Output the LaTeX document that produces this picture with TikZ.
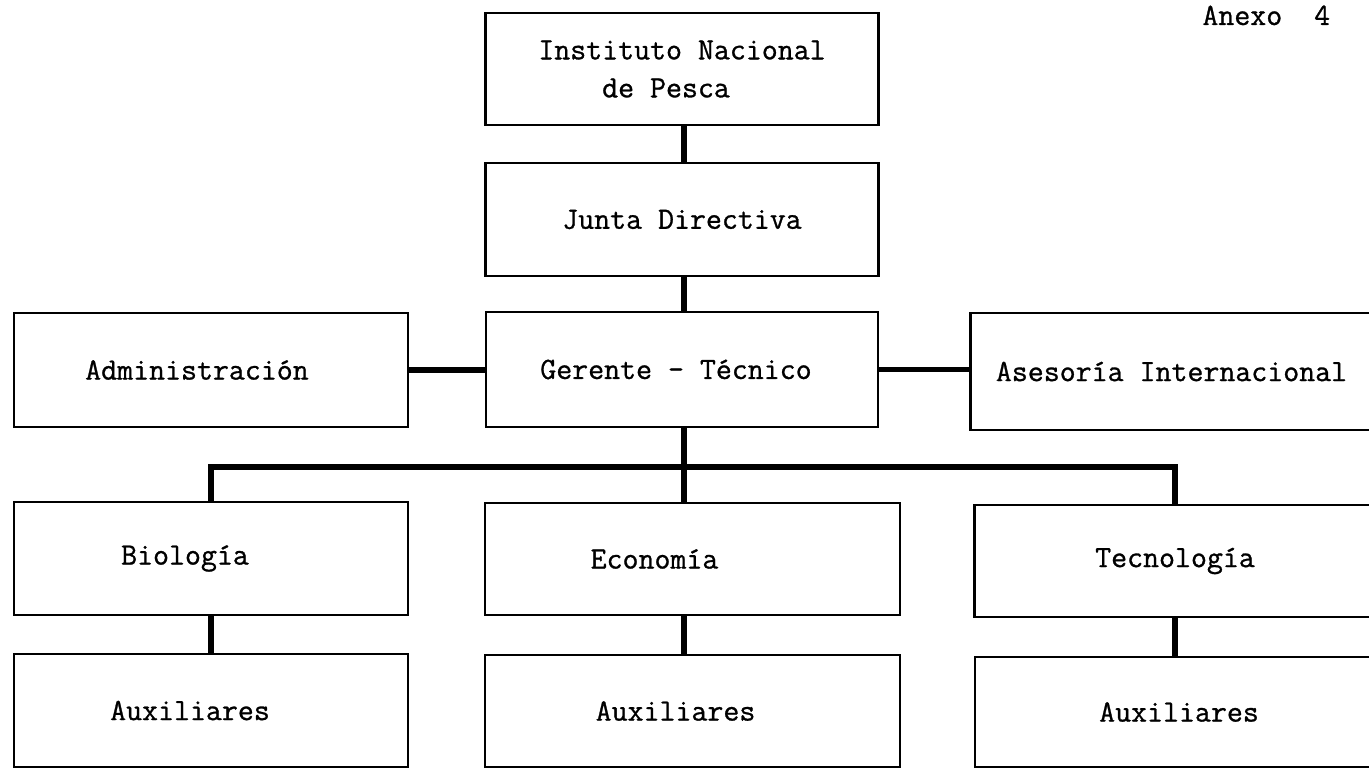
\documentclass[tikz,border=0pt]{standalone}
\usepackage{fontspec}
\newfontfamily\orgtt{Latin Modern Mono}[FakeBold=0.9]
\usetikzlibrary{calc}
\newcommand{\shtext}[2]{\makebox[0pt]{\hspace*{#1}#2\hspace*{-#1}}}
\tikzset{
  orgfont/.style={font=\fontsize{15.5}{19}\selectfont\orgtt},
  orgbox/.style n args={2}{draw, line width=1.4pt, inner sep=0pt, orgfont,
    align=center, minimum width={#1*0.5pt}, minimum height={#2*0.5pt}},
  conn/.style={line width=2.6pt},
}
\begin{document}
\begin{tikzpicture}[x=0.5pt,y=-0.5pt]
\useasboundingbox (0,0) rectangle (1369,769);
\fill[white] (0,0) rectangle (1369,769);

% header
\node[orgfont, anchor=base west, inner sep=0pt] (anexo) at (1202,25) {Anexo\ \ 4};

% top chain
\node[orgbox={393}{112}, align=left] (inst) at (682,69)
  {Instituto Nacional\\\phantom{xxxx}de Pesca};
\node[orgbox={393}{113}] (junta) at (682,219.5) {Junta Directiva};
\node[orgbox={392}{115}] (ger) at (682,369.5) {\shtext{-3pt}{Gerente - Técnico}};

% side boxes
\node[orgbox={394}{114}] (adm) at (211,370) {\shtext{-7pt}{Administración}};
\node[orgbox={402}{117}] (ases) at (1171.5,371.5) {Asesoría Internacional};

% departments
\node[orgbox={394}{113}] (bio) at (211,558.5) {\shtext{-13pt}{Biología}};
\node[orgbox={415}{112}] (eco) at (692.5,559) {\shtext{-19pt}{Economía}};
\node[orgbox={401}{112}] (tec) at (1175,561) {\shtext{0pt}{Tecnología}};

% auxiliaries
\node[orgbox={394}{113}] (aux1) at (211,710.5) {\shtext{-10.5pt}{Auxiliares}};
\node[orgbox={415}{112}] (aux2) at (692.5,711) {\shtext{-8.5pt}{Auxiliares}};
\node[orgbox={400}{110}] (aux3) at (1175,712) {\shtext{2pt}{Auxiliares}};

% connectors
\coordinate (bus) at (684,467);
\draw[conn] (inst.south -| bus) -- (junta.north -| bus);
\draw[conn] (junta.south -| bus) -- (ger.north -| bus);
\draw[conn] (adm.east) -- (adm.east -| ger.west);
\draw[conn] (ger.east) -- (ger.east -| ases.west);
\draw[conn] (ger.south -| bus) -- (bus);
\draw[conn] (bus) -| (bio.north);
\draw[conn] (bus) -- (eco.north -| bus);
\draw[conn] (bus) -| (tec.north);
\draw[conn] (bio.south) -- (aux1.north);
\draw[conn] (eco.south -| bus) -- (aux2.north -| bus);
\draw[conn] (tec.south) -- (aux3.north);
\end{tikzpicture}
\end{document}
